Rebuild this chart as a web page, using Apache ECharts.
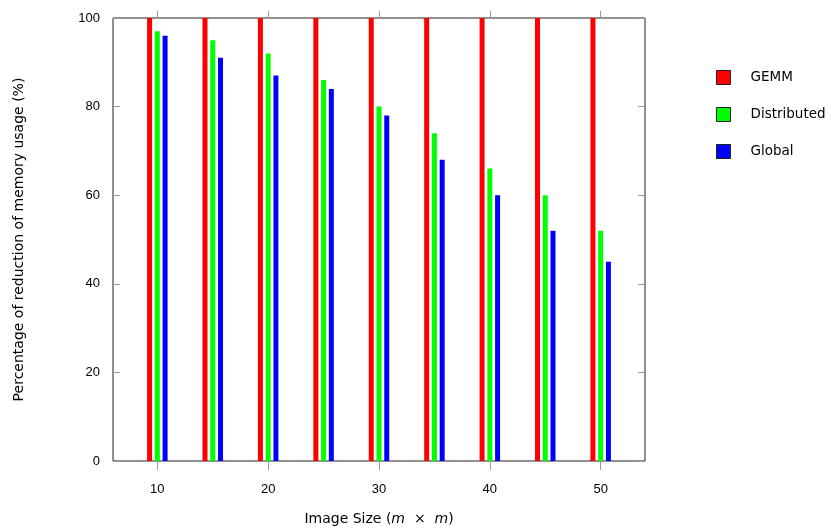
<!DOCTYPE html>
<html>
<head>
<meta charset="utf-8">
<script src="https://cdn.jsdelivr.net/npm/echarts@6/dist/echarts.min.js"></script>
<style>html,body{margin:0;padding:0;background:#fff;}#c{width:831px;height:529px;}</style>
</head>
<body>
<div id="c"></div>
<script>
const imageSizes = [10, 15, 20, 25, 30, 35, 40, 45, 50];
const gemm = [100, 100, 100, 100, 100, 100, 100, 100, 100];
const distributed = [97, 95, 92, 86, 80, 74, 66, 60, 52];
const global = [96, 91, 87, 84, 78, 68, 60, 52, 45];
const xTicks = [10, 20, 30, 40, 50];
const seriesNames = ['GEMM', 'Distributed', 'Global'];
const seriesColors = ['#ff0000', '#00ff00', '#0000ff'];

const pairs = arr => imageSizes.map((x, i) => [x, arr[i]]);
const chart = echarts.init(document.getElementById('c'), null, {renderer: 'canvas'});
const tickFont = {fontFamily: 'Liberation Sans', fontSize: 13, color: '#000'};
const titleFont = 'DejaVu Sans';
const axisLine = {show: false, onZero: false};

const option = {
  animation: false,
  backgroundColor: '#fff',
  grid: {left: 113, right: 186, top: 18, bottom: 68, show: true,
         borderColor: '#222', borderWidth: 1, backgroundColor: 'transparent',
         outerBoundsMode: 'none', containLabel: false},
  legend: {
    orient: 'vertical', left: 711, top: 65,
    itemWidth: 14, itemHeight: 14, itemGap: 22,
    icon: 'rect',
    textStyle: {fontFamily: titleFont, fontSize: 13.5, color: '#000', padding: [0, 0, 0, 15]},
    data: seriesNames.map(n => ({name: n, itemStyle: {borderColor: '#222', borderWidth: 1}}))
  },
  xAxis: [{
    type: 'value', min: 6, max: 54, position: 'bottom',
    axisLine: axisLine,
    axisTick: {show: true, inside: false, length: 9, lineStyle: {color: '#999'}, customValues: xTicks},
    axisLabel: {...tickFont, margin: 22, customValues: xTicks},
    splitLine: {show: false},
    name: '{a|Image Size (}{i|m}{a|  ×  }{i|m}{a|)}',
    nameLocation: 'middle', nameGap: 51,
    nameTextStyle: {rich: {
      a: {fontFamily: titleFont, fontSize: 14, color: '#000'},
      i: {fontFamily: titleFont, fontSize: 14, fontStyle: 'italic', color: '#000'}
    }}
  }, {
    type: 'value', min: 6, max: 54, position: 'top',
    axisLine: axisLine,
    axisTick: {show: true, inside: false, length: 7, lineStyle: {color: '#999'}, customValues: xTicks},
    axisLabel: {show: false},
    splitLine: {show: false}
  }],
  yAxis: [{
    type: 'value', min: 0, max: 100, interval: 20, position: 'left',
    axisLine: axisLine,
    axisTick: {show: true, inside: true, length: 7, lineStyle: {color: '#999'}},
    axisLabel: {...tickFont, margin: 13},
    splitLine: {show: false},
    name: 'Percentage of reduction of memory usage (%)',
    nameLocation: 'middle', nameGap: 87, nameRotate: 90,
    nameTextStyle: {fontFamily: titleFont, fontSize: 14, color: '#000'}
  }, {
    type: 'value', min: 0, max: 100, interval: 20, position: 'right',
    axisLine: axisLine,
    axisTick: {show: true, inside: true, length: 7, lineStyle: {color: '#999'}},
    axisLabel: {show: false},
    splitLine: {show: false}
  }],
  series: [gemm, distributed, global].map((arr, k) => ({
    name: seriesNames[k], type: 'bar', xAxisIndex: 0, yAxisIndex: 0,
    data: pairs(arr), barWidth: 5, barGap: '55%',
    itemStyle: {color: seriesColors[k]}
  }))
};
chart.setOption(option);
</script>
</body>
</html>
